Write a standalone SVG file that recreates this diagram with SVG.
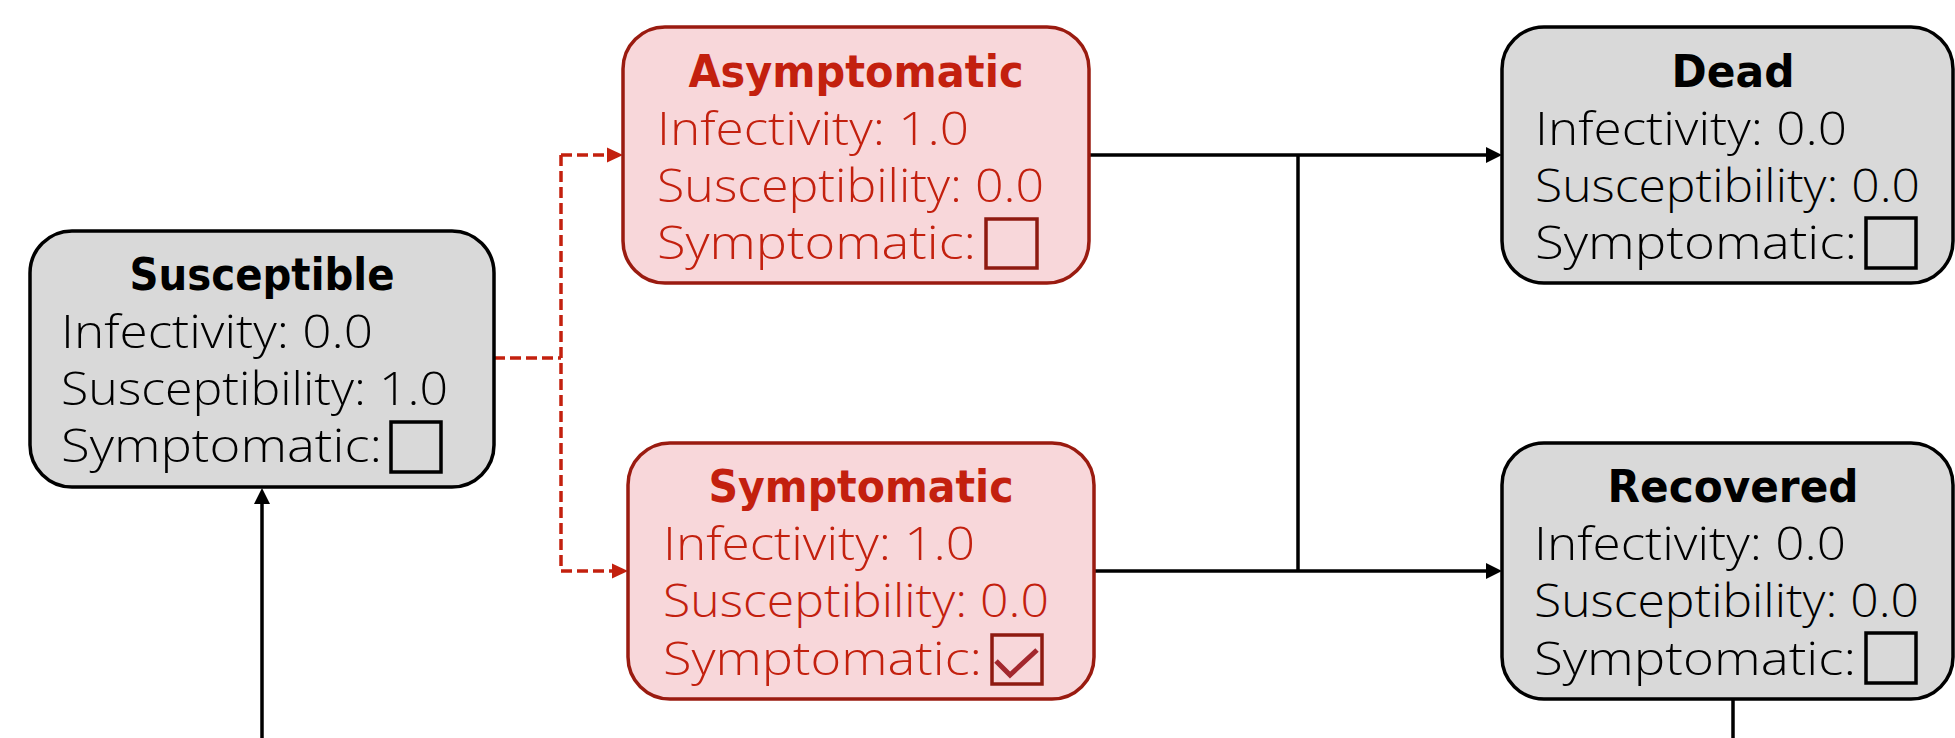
<svg xmlns="http://www.w3.org/2000/svg" width="1955" height="738" viewBox="0 0 1955 738">
<style>
  .box-g { fill: #d9d9d9; stroke: #000000; stroke-width: 3.5; }
  .box-r { fill: #f8d7da; stroke: #9a1b10; stroke-width: 3.5; }
  .t { font-family: "Open Sans", "DejaVu Sans", sans-serif; font-size: 46px; font-weight: 300; }
  .title { font-family: "DejaVu Sans", "Liberation Sans", sans-serif; font-size: 45px; font-weight: bold; text-anchor: middle; }
  .blk { fill: #000000; }
  .red { fill: #c3200e; }
  .cb-g { fill: none; stroke: #000000; stroke-width: 3.5; }
  .cb-r { fill: none; stroke: #8e1a10; stroke-width: 3.5; }
  .conn { fill: none; stroke: #000000; stroke-width: 3.5; }
  .dash { fill: none; stroke: #c3200e; stroke-width: 3.5; stroke-dasharray: 11 5; }
</style>
<defs>
  <marker id="arrB" markerUnits="userSpaceOnUse" markerWidth="16" markerHeight="16" refX="6" refY="8" orient="auto">
    <path d="M0,0 L16,8 L0,16 z" fill="#000000"/>
  </marker>
  <marker id="arrR" markerUnits="userSpaceOnUse" markerWidth="16" markerHeight="16" refX="6" refY="8" orient="auto">
    <path d="M0,0.5 L16,8 L0,15.5 z" fill="#c3200e"/>
  </marker>
</defs>

<g id="connectors">
  <path class="conn" d="M262,738 V498" marker-end="url(#arrB)"/>
  <path class="conn" d="M1089,155 H1492" marker-end="url(#arrB)"/>
  <path class="conn" d="M1094,571 H1492" marker-end="url(#arrB)"/>
  <path class="conn" d="M1298,155 V571"/>
  <path class="conn" d="M1733,699 V738"/>
  <path class="dash" d="M494,358 H561"/>
  <path class="dash" d="M561,155 V571"/>
  <path class="dash" d="M561,155 H613" marker-end="url(#arrR)"/>
  <path class="dash" d="M561,571 H618" marker-end="url(#arrR)"/>
</g>

<g id="susceptible">
  <rect class="box-g" x="30" y="231" width="464" height="256" rx="42"/>
  <text class="title blk" x="262" y="290" textLength="265" lengthAdjust="spacingAndGlyphs">Susceptible</text>
  <text class="t blk" x="61" y="348" textLength="312" lengthAdjust="spacingAndGlyphs">Infectivity: 0.0</text>
  <text class="t blk" x="61" y="405" textLength="387" lengthAdjust="spacingAndGlyphs">Susceptibility: 1.0</text>
  <text class="t blk" x="61" y="462" textLength="321" lengthAdjust="spacingAndGlyphs">Symptomatic:</text>
  <rect class="cb-g" x="391" y="422" width="50" height="50"/>
</g>

<g id="asymptomatic">
  <rect class="box-r" x="623" y="27" width="466" height="256" rx="42"/>
  <text class="title red" x="856" y="87" textLength="335" lengthAdjust="spacingAndGlyphs">Asymptomatic</text>
  <text class="t red" x="657" y="145" textLength="312" lengthAdjust="spacingAndGlyphs">Infectivity: 1.0</text>
  <text class="t red" x="657" y="202" textLength="387" lengthAdjust="spacingAndGlyphs">Susceptibility: 0.0</text>
  <text class="t red" x="657" y="259" textLength="319" lengthAdjust="spacingAndGlyphs">Symptomatic:</text>
  <rect class="cb-r" x="986" y="219" width="51" height="49"/>
</g>

<g id="symptomatic">
  <rect class="box-r" x="628" y="443" width="466" height="256" rx="42"/>
  <text class="title red" x="861" y="502" textLength="305" lengthAdjust="spacingAndGlyphs">Symptomatic</text>
  <text class="t red" x="663" y="560" textLength="312" lengthAdjust="spacingAndGlyphs">Infectivity: 1.0</text>
  <text class="t red" x="663" y="617" textLength="386" lengthAdjust="spacingAndGlyphs">Susceptibility: 0.0</text>
  <text class="t red" x="663" y="675" textLength="319" lengthAdjust="spacingAndGlyphs">Symptomatic:</text>
  <rect class="cb-r" x="992" y="635" width="50" height="49"/>
  <polyline points="996,661 1010,675 1037,650" fill="none" stroke="#a3282e" stroke-width="5"/>
</g>

<g id="dead">
  <rect class="box-g" x="1502" y="27" width="451" height="256" rx="42"/>
  <text class="title blk" x="1733" y="87" textLength="123" lengthAdjust="spacingAndGlyphs">Dead</text>
  <text class="t blk" x="1535" y="145" textLength="312" lengthAdjust="spacingAndGlyphs">Infectivity: 0.0</text>
  <text class="t blk" x="1535" y="202" textLength="385" lengthAdjust="spacingAndGlyphs">Susceptibility: 0.0</text>
  <text class="t blk" x="1535" y="259" textLength="322" lengthAdjust="spacingAndGlyphs">Symptomatic:</text>
  <rect class="cb-g" x="1866" y="218" width="50" height="50"/>
</g>

<g id="recovered">
  <rect class="box-g" x="1502" y="443" width="451" height="256" rx="42"/>
  <text class="title blk" x="1733" y="502" textLength="251" lengthAdjust="spacingAndGlyphs">Recovered</text>
  <text class="t blk" x="1534" y="560" textLength="312" lengthAdjust="spacingAndGlyphs">Infectivity: 0.0</text>
  <text class="t blk" x="1534" y="617" textLength="385" lengthAdjust="spacingAndGlyphs">Susceptibility: 0.0</text>
  <text class="t blk" x="1534" y="675" textLength="322" lengthAdjust="spacingAndGlyphs">Symptomatic:</text>
  <rect class="cb-g" x="1866" y="633" width="50" height="50"/>
</g>
</svg>
